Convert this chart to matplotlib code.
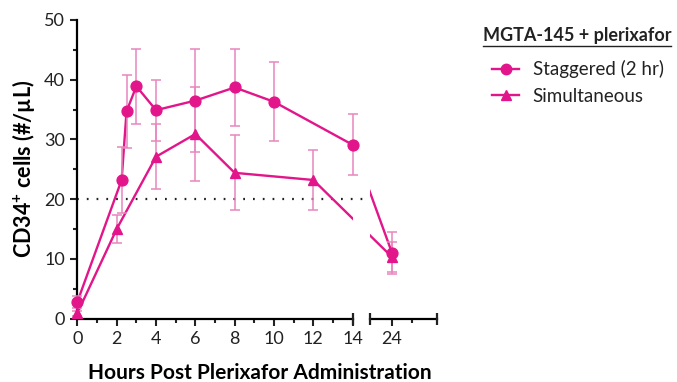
import matplotlib
matplotlib.use("Agg")
import matplotlib.pyplot as plt
from matplotlib.lines import Line2D

plt.rcParams['font.family'] = ['Lato', 'DejaVu Sans']
plt.rcParams['mathtext.fontset'] = 'custom'
plt.rcParams['mathtext.rm'] = 'Lato:bold'
plt.rcParams['mathtext.bf'] = 'Lato:bold'

# data
staggered_hours = [0, 2.25, 2.5, 3, 4, 6, 8, 10, 14, 24]
staggered_mean = [2.8, 23.2, 34.7, 38.9, 34.9, 36.5, 38.7, 36.3, 29.1, 11.0]
staggered_sd = [1.0, 5.6, 6.1, 6.3, 5.1, 8.6, 6.4, 6.6, 5.1, 3.5]

simult_hours = [0, 2, 4, 6, 8, 12, 24]
simult_mean = [0.9, 15.0, 27.1, 30.9, 24.4, 23.2, 10.3]
simult_sd = [0.4, 2.3, 5.4, 7.8, 6.3, 5.1, 2.5]

threshold = 20
ticks_left = [0, 2, 4, 6, 8, 10, 12, 14]
ticks_right = [24]

BREAK_AT = 14      # end of first axis segment
SHIFT = 8          # hours removed by the axis break
MAGENTA = '#E2158A'
ERR = '#E886BE'


def to_axis(hours):
    # map real hours onto the broken-axis coordinate
    return [h if h <= BREAK_AT else h - SHIFT for h in hours]


fig = plt.figure(figsize=(6.77, 3.82), dpi=100)
ax1 = fig.add_axes([77.4 / 677, 63.5 / 382, 275.2 / 677, 298.5 / 382])
ax2 = fig.add_axes([370 / 677, 63.5 / 382, 67 / 677, 298.5 / 382], sharey=ax1)
ax1.set_xlim(0, 14)
ax2.set_xlim(14.88, 18.29)
ax1.set_ylim(0, 50)

series = [
    (staggered_hours, staggered_mean, staggered_sd, 'o', 7.8),
    (simult_hours, simult_mean, simult_sd, '^', 7.2),
]

for ax in (ax1, ax2):
    lo, hi = ax.get_xlim()
    for hours, mean, sd, mk, ms in series:
        u = to_axis(hours)
        ax.plot(u, mean, color=MAGENTA, lw=1.7, zorder=3)
        keep = [i for i, x in enumerate(u) if lo - 0.01 <= x <= hi]
        ax.errorbar([u[i] for i in keep], [mean[i] for i in keep],
                    yerr=[sd[i] for i in keep], fmt=mk, ms=ms, color=MAGENTA,
                    ecolor=ERR, elinewidth=1.1, capsize=3.6, capthick=1.1,
                    zorder=4, clip_on=False)

# dotted threshold across both segments
ax1.plot([0, 18.29], [threshold, threshold], color='#222222', lw=1.6,
         linestyle=(0, (0.8, 3.6)), clip_on=False, zorder=2)

# axes styling
for ax in (ax1, ax2):
    ax.spines['top'].set_visible(False)
    ax.spines['right'].set_visible(False)
    ax.spines['bottom'].set_linewidth(1.6)
    ax.spines['left'].set_linewidth(1.6)
    ax.tick_params(axis='both', which='major', length=5, width=1.5,
                   labelsize=13, colors='#222222', pad=4)
    ax.tick_params(axis='both', which='minor', length=3, width=1.5,
                   colors='#222222')

ax1.set_xticks(ticks_left)
ax1.set_xticks([1, 3, 5, 7, 9, 11, 13], minor=True)
ax1.set_yticks([0, 10, 20, 30, 40, 50])
ax1.set_yticks([5, 15, 25, 35, 45], minor=True)

ax2.spines['left'].set_visible(False)
ax2.set_xticks(to_axis(ticks_right))
ax2.set_xticklabels([str(t) for t in ticks_right])
ax2.set_xticks(to_axis([25]), minor=True)
ax2.tick_params(axis='y', which='both', left=False, labelleft=False)

# end caps of the broken axis
for ax, xs in ((ax1, [1]), (ax2, [0, 1])):
    for x in xs:
        ax.plot([x], [0], marker='|', ms=9, mew=1.6, color='#222222',
                transform=ax.transAxes, clip_on=False, zorder=5)

ax1.set_ylabel('CD34$^{+}$ cells (#/µL)', fontsize=15.5, fontweight='bold',
               labelpad=5)
fig.text(260 / 677, 1 - 373 / 382, 'Hours Post Plerixafor Administration',
         ha='center', va='center', fontsize=15, fontweight='bold')

# legend
handles = [Line2D([], [], color=MAGENTA, marker='o', ms=7.5, lw=1.7),
           Line2D([], [], color=MAGENTA, marker='^', ms=7.5, lw=1.7)]
fig.legend(handles, ['Staggered (2 hr)', 'Simultaneous'],
           loc='upper left', bbox_to_anchor=(483 / 677, 1 - 51 / 382),
           frameon=False, fontsize=13.5, handlelength=1.4,
           handletextpad=0.75, labelspacing=0.5, borderpad=0,
           labelcolor='#222222')
title = fig.text(577 / 677, 1 - 36 / 382, 'MGTA-145 + plerixafor',
                 ha='center', va='center', fontsize=13, fontweight='bold',
                 color='#222222')
fig.canvas.draw()
bb = title.get_window_extent()
fig.add_artist(Line2D([bb.x0 / fig.bbox.width, bb.x1 / fig.bbox.width],
                      [(bb.y0 - 1) / fig.bbox.height] * 2,
                      color='#222222', lw=1.0))

fig.savefig('out.png', dpi=100)
